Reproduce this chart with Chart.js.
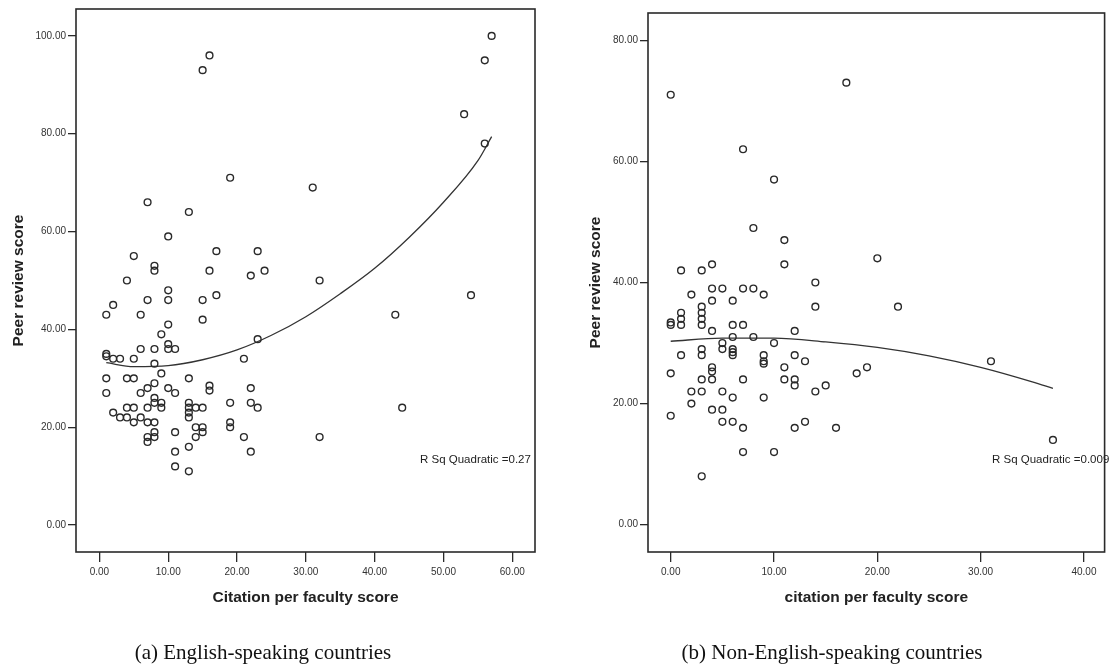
<!DOCTYPE html>
<html>
<head>
<meta charset="utf-8">
<script src="https://cdn.jsdelivr.net/npm/chart.js@4/dist/chart.umd.min.js"></script>
<style>
  body { margin: 0; background: #fff; }
  #wrap { position: relative; width: 1110px; height: 669px; overflow: hidden; }
  canvas { position: absolute; top: 0; }
  .cap { position: absolute; top: 640px; font-family: "Liberation Serif", "Times New Roman", serif; font-size: 21px; color: #111; white-space: nowrap; transform: translateX(-50%); }
</style>
</head>
<body>
<div id="wrap">
  <canvas id="chartA" width="555" height="669" style="left:0"></canvas>
  <canvas id="chartB" width="555" height="669" style="left:555px"></canvas>
  <div class="cap" style="left:263px">(a) English-speaking countries</div>
  <div class="cap" style="left:832px">(b) Non-English-speaking countries</div>
</div>
<script>
// (a) English-speaking countries : citation per faculty vs peer review
const citationA = [16, 15, 57, 56, 53, 56, 19, 7, 13, 10, 5, 17, 23, 8, 8, 16, 22, 4, 10, 10,
  7, 15, 17, 2, 1, 6, 15, 10, 9, 10, 10, 11, 6, 8, 1, 1, 2, 3, 5, 8,
  9, 1, 4, 5, 13, 8, 7, 10, 16, 16, 22, 6, 1, 11, 8, 9, 8, 9, 19, 22,
  23, 13, 13, 13, 13, 14, 15, 7, 5, 4, 2, 3, 4, 5, 6, 7, 8, 19, 19, 15,
  14, 14, 15, 11, 8, 8, 7, 7, 21, 13, 11, 22, 11, 13, 31, 24, 32, 54, 43, 23,
  21, 44, 32];
const peerA = [96, 93, 100, 95, 84, 78, 71, 66, 64, 59, 55, 56, 56, 53, 52, 52, 51, 50, 48, 46,
  46, 46, 47, 45, 43, 43, 42, 41, 39, 37, 36, 36, 36, 36, 35, 34.5, 34, 34, 34, 33,
  31, 30, 30, 30, 30, 29, 28, 28, 28.5, 27.5, 28, 27, 27, 27, 26, 25, 25, 24, 25, 25,
  24, 25, 24, 23, 22, 24, 24, 24, 24, 24, 23, 22, 22, 21, 22, 21, 21, 21, 20, 20,
  20, 18, 19, 19, 19, 18, 18, 17, 18, 16, 15, 15, 12, 11, 69, 52, 50, 47, 43, 38,
  34, 24, 18];
// quadratic fit line
const fitXA = [1, 5, 10, 15, 20, 25, 30, 35, 40, 45, 50, 55, 57];
const fitYA = [33.2, 32.4, 32.6, 33.8, 35.8, 38.8, 42.6, 47.3, 52.5, 58.8, 66.0, 74.5, 79.4];
const xTicksA = [0, 10, 20, 30, 40, 50, 60];
const yTicksA = [0, 20, 40, 60, 80, 100];

// (b) Non-English-speaking countries
const citationB = [0, 7, 10, 8, 11, 17, 20, 14, 14, 22, 13, 31, 19, 18, 15, 14, 13, 16, 37,
  1, 3, 4, 11, 2, 4, 5, 7, 8, 9, 4, 6, 1, 1, 1, 0, 0, 3, 3, 3, 3,
  6, 7, 4, 12, 6, 8, 5, 10, 5, 6, 6, 6, 3, 3, 1, 9, 9, 9, 12, 11,
  4, 4, 4, 0, 3, 7, 11, 12, 12, 2, 3, 5, 6, 9, 2, 0, 4, 5, 5, 6,
  7, 12, 7, 10, 3];
const peerB = [71, 62, 57, 49, 47, 73, 44, 40, 36, 36, 27, 27, 26, 25, 23, 22, 17, 16, 14,
  42, 42, 43, 43, 38, 39, 39, 39, 39, 38, 37, 37, 35, 34, 33, 33, 33.4, 36, 35, 34, 33,
  33, 33, 32, 32, 31, 31, 30, 30, 29, 29, 28.5, 28, 29, 28, 28, 28, 27, 26.6, 28, 26,
  26, 25.3, 24, 25, 24, 24, 24, 24, 23, 22, 22, 22, 21, 21, 20, 18, 19, 19, 17, 17,
  16, 16, 12, 12, 8];
const fitXB = [0, 5, 10, 15, 20, 25, 30, 35, 37];
const fitYB = [30.3, 30.8, 30.8, 30.2, 29.3, 27.9, 26.0, 23.6, 22.5];
const xTicksB = [0, 10, 20, 30, 40];
const yTicksB = [0, 20, 40, 60, 80];

const ink = '#2a2a2a';
const tickFont = { family: "'Liberation Sans Narrow', 'Liberation Sans', Arial, sans-serif", size: 10 };
const titleFont = { family: "'Liberation Sans', Arial, sans-serif", size: 15.5, weight: 'bold' };

const framePlugin = {
  id: 'frame',
  afterDraw(chart, args, opts) {
    const { ctx, chartArea: a } = chart;
    ctx.save();
    ctx.strokeStyle = ink;
    ctx.lineWidth = 1.6;
    ctx.strokeRect(a.left, a.top, a.right - a.left, a.bottom - a.top);
    ctx.fillStyle = '#222';
    ctx.font = "11.5px 'Liberation Sans Narrow', 'Liberation Sans', Arial, sans-serif";
    ctx.textBaseline = 'middle';
    ctx.fillText(opts.label, a.left + opts.dx, a.top + opts.dy);
    ctx.restore();
  }
};

function makeChart(id, xs, ys, fx, fy, xTicks, yTicks, xr, yr, xTitle, pad, yWidth, label) {
  const pts = xs.map((v, i) => ({ x: v, y: ys[i] }));
  const fit = fx.map((v, i) => ({ x: v, y: fy[i] }));
  const tickSetter = arr => scale => { scale.ticks = arr.map(v => ({ value: v })); };
  return new Chart(document.getElementById(id), {
    type: 'scatter',
    data: {
      datasets: [
        { data: pts, pointStyle: 'circle', pointRadius: 3.4, pointBorderWidth: 1.4,
          pointBorderColor: ink, pointBackgroundColor: 'rgba(0,0,0,0)' },
        { type: 'line', data: fit, borderColor: '#333', borderWidth: 1.3, pointRadius: 0,
          cubicInterpolationMode: 'monotone', fill: false }
      ]
    },
    options: {
      responsive: false,
      animation: false,
      layout: { padding: pad },
      plugins: { legend: { display: false }, tooltip: { enabled: false }, frame: label },
      scales: {
        x: {
          type: 'linear', min: xr[0], max: xr[1],
          afterBuildTicks: tickSetter(xTicks),
          afterFit: s => { s.height = 55; },
          border: { display: false },
          grid: { drawOnChartArea: false, drawTicks: true, tickLength: 10, color: ink, lineWidth: 1.3 },
          ticks: { font: tickFont, color: '#333', padding: 4, maxRotation: 0, callback: v => v.toFixed(2) },
          title: { display: true, text: xTitle, font: titleFont, color: '#222', padding: 0 }
        },
        y: {
          type: 'linear', min: yr[0], max: yr[1],
          afterBuildTicks: tickSetter(yTicks),
          afterFit: s => { s.width = yWidth; },
          border: { display: false },
          grid: { drawOnChartArea: false, drawTicks: true, tickLength: 8, color: ink, lineWidth: 1.3 },
          ticks: { font: tickFont, color: '#333', padding: 2, callback: v => v.toFixed(2) },
          title: { display: true, text: 'Peer review score', font: titleFont, color: '#222', padding: 0 }
        }
      }
    },
    plugins: [framePlugin]
  });
}

makeChart('chartA', citationA, peerA, fitXA, fitYA, xTicksA, yTicksA, [-3.4, 63.3], [-5.5, 105.5],
  'Citation per faculty score', { left: 9, top: 9, right: 20, bottom: 62 }, 67,
  { label: 'R Sq Quadratic =0.27', dx: 344, dy: 451 });
makeChart('chartB', citationB, peerB, fitXB, fitYB, xTicksB, yTicksB, [-2.2, 42.0], [-4.5, 84.5],
  'citation per faculty score', { left: 31, top: 13, right: 2, bottom: 62 }, 62,
  { label: 'R Sq Quadratic =0.009', dx: 344, dy: 447 });
</script>
</body>
</html>
